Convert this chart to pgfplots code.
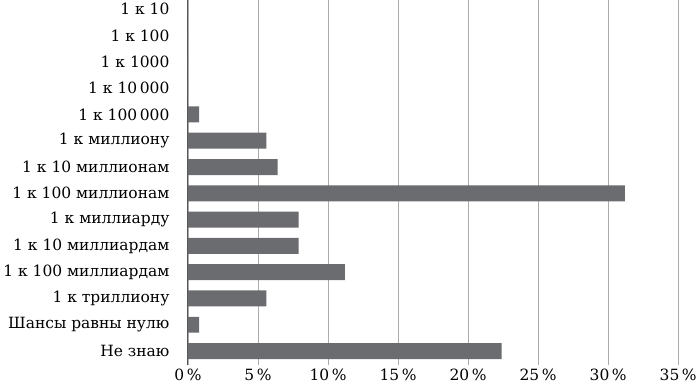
\documentclass[border=0pt]{standalone}
\usepackage{pgfplots}
\pgfplotsset{compat=1.18}
\usepackage{fontspec}
\setmainfont{DejaVu Serif}
\definecolor{barc}{HTML}{6B6C70}
\definecolor{gridc}{HTML}{ABABAB}
\definecolor{axc}{HTML}{555555}
\begin{document}
\begin{tikzpicture}
\begin{axis}[
  scale only axis,
  width=491pt, height=365pt,
  xbar, bar width=16pt,
  xmin=0, xmax=35,
  ymin=-0.335, ymax=13.53,
  y dir=reverse,
  axis y line=left, axis x line=bottom,
  x axis line style={draw=none},
  y axis line style={draw=axc, line width=1pt, -},
  xtick={0,5,...,35},
  ytick={0,...,13},
  yticklabels={{1 к 10},{1 к 100},{1 к 1000},{1 к 10\,000},{1 к 100\,000},{1 к миллиону},{1 к 10 миллионам},{1 к 100 миллионам},{1 к миллиарду},{1 к 10 миллиардам},{1 к 100 миллиардам},{1 к триллиону},{Шансы равны нулю},{Не знаю}},
  xticklabel={\pgfmathprintnumber{\tick}\,\%},
  /pgf/number format/assume math mode=true,
  major tick length=0pt,
  xmajorgrids, major grid style={gridc, line width=0.8pt},
  tick label style={font=\fontsize{15.5}{18}\selectfont, text=black},
  y tick label style={xshift=-15pt},
  x tick label style={yshift=-1pt},
  clip=false,
]
\addplot[fill=barc, draw=none] coordinates {
(0,0) (0,1) (0,2) (0,3) (0.8,4) (5.6,5) (6.4,6) (31.2,7) (7.9,8) (7.9,9) (11.2,10) (5.6,11) (0.8,12) (22.4,13)
};
\end{axis}
\end{tikzpicture}
\end{document}
